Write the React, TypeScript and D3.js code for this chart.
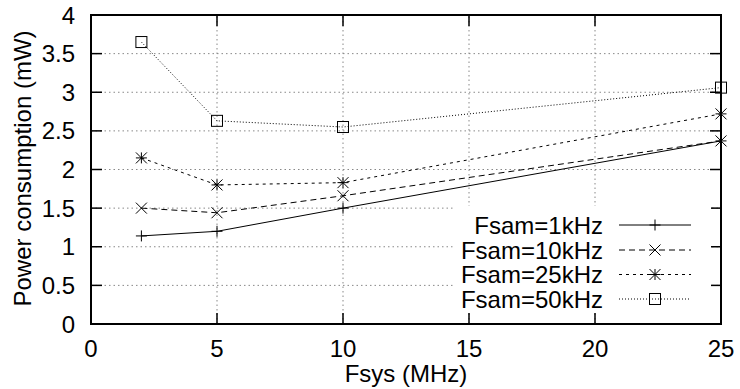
import React from "react";
import * as d3 from "d3";

// Fsys (MHz) on the x axis
const fsys = [2, 5, 10, 25];

const fsam1k = [1.14, 1.2, 1.5, 2.37];
const fsam10k = [1.5, 1.44, 1.66, 2.37];
const fsam25k = [2.15, 1.8, 1.83, 2.72];
const fsam50k = [3.65, 2.63, 2.55, 3.06];

const seriesNames = ["Fsam=1kHz", "Fsam=10kHz", "Fsam=25kHz", "Fsam=50kHz"];
const xTicks = [0, 5, 10, 15, 20, 25];
const yTicks = [0, 0.5, 1, 1.5, 2, 2.5, 3, 3.5, 4];

const W = 740;
const H = 389;
const margin = { left: 91, right: 19, top: 15, bottom: 65 };
const FONT = "'Liberation Sans', Arial, Helvetica, sans-serif";

const dashes = ["none", "6,4", "3,4", "1,2"];
const markers = ["plus", "cross", "star", "box"];

const Marker: React.FC<{ kind: string; x: number; y: number }> = ({ kind, x, y }) => {
  const s = 5.5;
  const plus = `M${x - s},${y}H${x + s}M${x},${y - s}V${y + s}`;
  const cross = `M${x - s},${y - s}L${x + s},${y + s}M${x - s},${y + s}L${x + s},${y - s}`;
  if (kind === "box")
    return <rect x={x - s} y={y - s} width={2 * s} height={2 * s} fill="none" stroke="#000" strokeWidth={1} />;
  const d = kind === "plus" ? plus : kind === "cross" ? cross : plus + cross;
  return <path d={d} fill="none" stroke="#000" strokeWidth={1} />;
};

export default function App() {
  const x = d3.scaleLinear().domain([0, 25]).range([margin.left, W - margin.right]);
  const y = d3.scaleLinear().domain([0, 4]).range([H - margin.bottom, margin.top]);
  const [x0, x1] = x.range();
  const [y0, y1] = y.range();

  const all = [fsam1k, fsam10k, fsam25k, fsam50k];
  const line = d3
    .line<number>()
    .x((_, i) => x(fsys[i]))
    .y((d) => y(d));

  const tickLen = 11;
  const legendX = 603;
  const legendY = [225, 250, 274.5, 299];

  return (
    <svg width={W} height={H} style={{ position: "absolute", left: 0, top: 0 }} fontFamily={FONT}>
      <rect width={W} height={H} fill="#fff" />

      {/* grid */}
      <g stroke="#888" strokeWidth={1} strokeDasharray="1.5,3">
        {yTicks.slice(1, -1).map((t) => (
          <line key={"gy" + t} x1={x0} x2={x1} y1={y(t)} y2={y(t)} />
        ))}
        {xTicks.slice(1, -1).map((t) => (
          <line key={"gx" + t} x1={x(t)} x2={x(t)} y1={y0} y2={y1} />
        ))}
      </g>

      {/* ticks, mirrored */}
      <g stroke="#000" strokeWidth={1.5}>
        {yTicks.map((t) => (
          <g key={"ty" + t}>
            <line x1={x0} x2={x0 + tickLen} y1={y(t)} y2={y(t)} />
            <line x1={x1} x2={x1 - tickLen} y1={y(t)} y2={y(t)} />
          </g>
        ))}
        {xTicks.map((t) => (
          <g key={"tx" + t}>
            <line x1={x(t)} x2={x(t)} y1={y0} y2={y0 - tickLen} />
            <line x1={x(t)} x2={x(t)} y1={y1} y2={y1 + tickLen} />
          </g>
        ))}
      </g>

      {/* series */}
      {all.map((vals, si) => (
        <g key={"s" + si}>
          <path d={line(vals) || ""} fill="none" stroke="#000" strokeWidth={1} strokeDasharray={dashes[si]} />
          {vals.map((v, i) => (
            <Marker key={i} kind={markers[si]} x={x(fsys[i])} y={y(v)} />
          ))}
        </g>
      ))}

      {/* legend */}
      <rect x={453} y={206} width={258} height={106} fill="#fff" />
      {seriesNames.map((name, si) => (
        <g key={"l" + si}>
          <text x={legendX} y={legendY[si]} textAnchor="end" dominantBaseline="central" fontSize={24}>
            {name}
          </text>
          <line x1={619} x2={691} y1={legendY[si]} y2={legendY[si]} stroke="#000" strokeWidth={1} strokeDasharray={dashes[si]} />
          <Marker kind={markers[si]} x={655} y={legendY[si]} />
        </g>
      ))}

      {/* frame */}
      <rect x={x0} y={y1} width={x1 - x0} height={y0 - y1} fill="none" stroke="#000" strokeWidth={2} />

      {/* tick labels */}
      {yTicks.map((t) => (
        <text key={"ly" + t} x={x0 - 16} y={y(t)} textAnchor="end" dominantBaseline="central" fontSize={24}>
          {t}
        </text>
      ))}
      {xTicks.map((t) => (
        <text key={"lx" + t} x={x(t)} y={y0 + 33} textAnchor="middle" fontSize={24}>
          {t}
        </text>
      ))}

      {/* axis titles */}
      <text x={(x0 + x1) / 2} y={382} textAnchor="middle" fontSize={24}>
        Fsys (MHz)
      </text>
      <text
        transform={`translate(31,${(y0 + y1) / 2 - 1}) rotate(-90)`}
        textAnchor="middle"
        fontSize={24}
      >
        Power consumption (mW)
      </text>
    </svg>
  );
}
